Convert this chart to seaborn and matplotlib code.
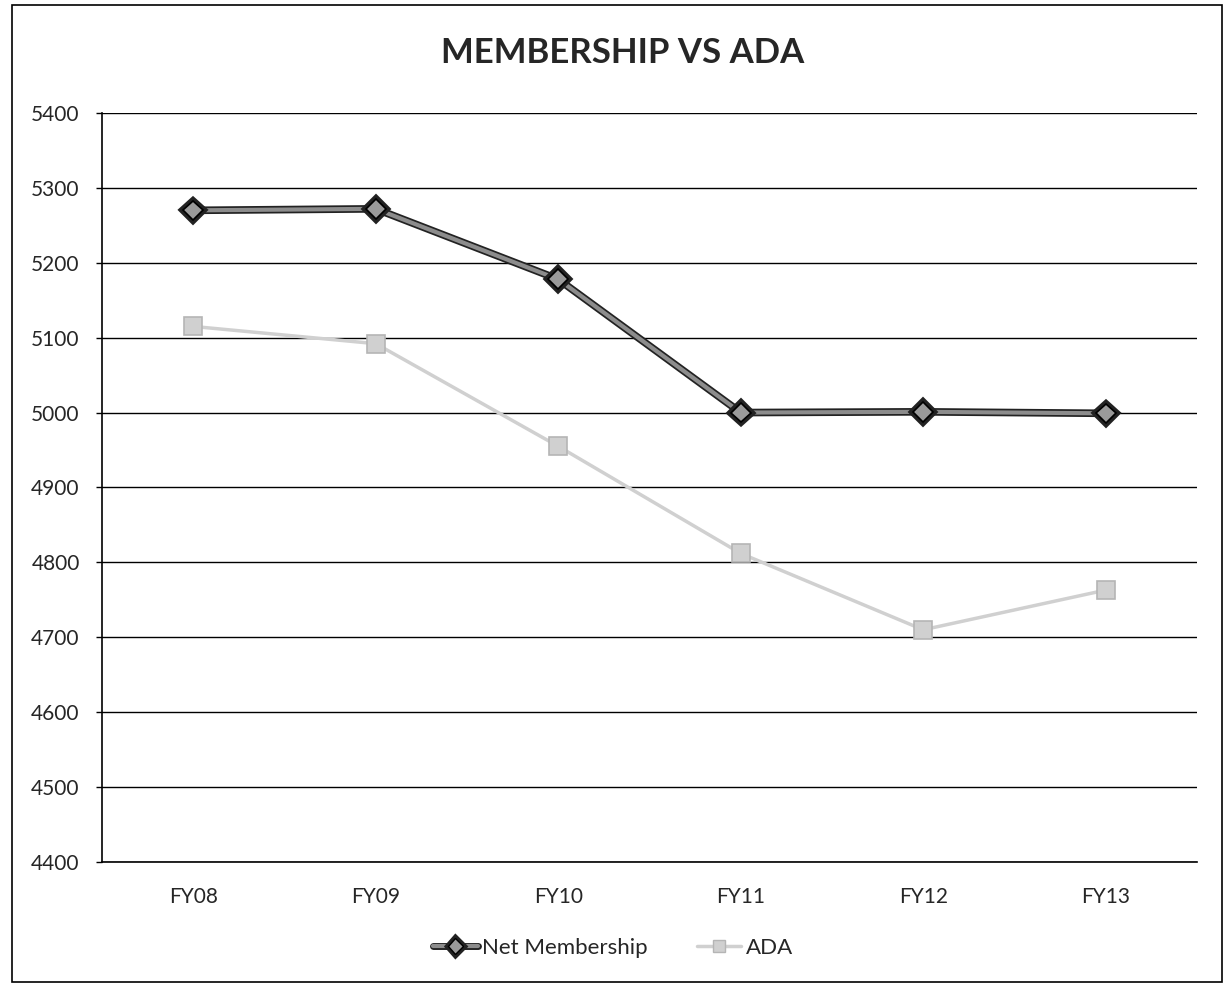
import matplotlib
matplotlib.use("Agg")
import matplotlib.pyplot as plt
import matplotlib.patheffects as pe
from matplotlib.patches import Rectangle
from matplotlib.lines import Line2D
import seaborn as sns
import pandas as pd

years = ["FY08", "FY09", "FY10", "FY11", "FY12", "FY13"]
net_membership = [5270, 5272, 5178, 5000, 5001, 4999]
ada = [5115, 5092, 4955, 4812, 4710, 4763]
y_ticks = [4400, 4500, 4600, 4700, 4800, 4900, 5000, 5100, 5200, 5300, 5400]

df = pd.DataFrame({"year": years, "Net Membership": net_membership, "ADA": ada})

sns.set_theme(style="white")
plt.rcParams["font.family"] = ["Lato", "DejaVu Sans"]

fig = plt.figure(figsize=(12.26, 9.85), dpi=100)
ax = fig.add_axes([0.0832, 0.1249, 0.8931, 0.7604])

# outer chart frame
fig.patches.append(Rectangle((0.010, 0.003), 0.987, 0.992, transform=fig.transFigure,
                             fill=False, edgecolor="black", linewidth=1.2))

net_color = "#8c8c8c"
ada_color = "#d0d0d0"

sns.lineplot(data=df, x="year", y="Net Membership", ax=ax, color=net_color,
             linewidth=3, marker="D", markersize=10, markerfacecolor="#9a9a9a",
             markeredgecolor="black", markeredgewidth=1.2, sort=False,
             path_effects=[pe.Stroke(linewidth=5.5, foreground="#222222"), pe.Normal()])
sns.lineplot(data=df, x="year", y="ADA", ax=ax, color=ada_color,
             linewidth=2.5, marker="s", markersize=13, markerfacecolor=ada_color,
             markeredgecolor="#b5b5b5", markeredgewidth=1.2, sort=False)

ax.set_xlim(-0.5, len(years) - 0.5)
ax.set_ylim(4400, 5400)
ax.set_yticks(y_ticks)
ax.set_yticklabels([str(v) for v in y_ticks], fontsize=15)
ax.tick_params(axis="x", labelsize=15, length=0, pad=18)
ax.tick_params(axis="y", length=4, width=1, color="black", left=True, pad=12)
ax.yaxis.grid(True, color="black", linewidth=1)
ax.xaxis.grid(False)
ax.set_axisbelow(True)
for side in ["top", "right"]:
    ax.spines[side].set_visible(False)
ax.spines["left"].set_color("black")
ax.spines["bottom"].set_color("black")
ax.spines["left"].set_linewidth(1.2)
ax.spines["bottom"].set_linewidth(1.2)
ax.set_xlabel("")
ax.set_ylabel("")

fig.suptitle("MEMBERSHIP VS ADA", x=0.508, y=0.962, fontsize=25, fontweight="bold")

handles = [
    Line2D([], [], color=net_color, linewidth=3, marker="D", markersize=8,
           markerfacecolor="#9a9a9a", markeredgecolor="black",
           path_effects=[pe.Stroke(linewidth=5, foreground="#222222"), pe.Normal()]),
    Line2D([], [], color=ada_color, linewidth=2.5, marker="s", markersize=9,
           markerfacecolor=ada_color, markeredgecolor="#b5b5b5"),
]
fig.legend(handles, ["Net Membership", "ADA"], loc="center", bbox_to_anchor=(0.5, 0.038),
           ncol=2, frameon=False, fontsize=16, handlelength=2.0, handletextpad=0.2,
           columnspacing=2.2)

fig.savefig("out.png", dpi=100)
